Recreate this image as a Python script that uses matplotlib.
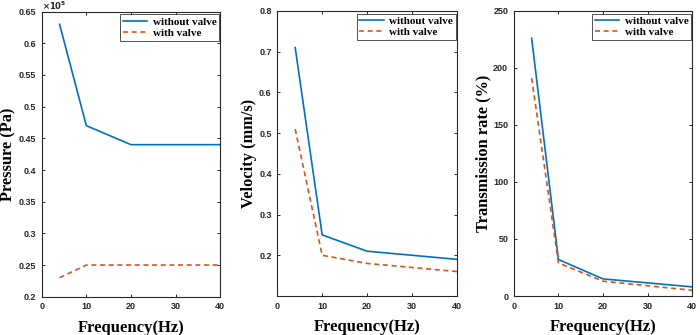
import matplotlib.pyplot as plt
from matplotlib.ticker import FuncFormatter

freq = [4, 10, 20, 40]

pressure_without = [63000, 47000, 44000, 44000]
pressure_with = [23000, 25000, 25000, 25000]

velocity_without = [0.71, 0.25, 0.21, 0.19]
velocity_with = [0.51, 0.20, 0.18, 0.16]

trans_without = [226, 32, 15, 8]
trans_with = [191, 29, 13, 5]

BLUE = "#0072BD"
ORANGE = "#D95319"
AX_COLOR = "#262626"

plt.rcParams.update({
    "font.family": "sans-serif",
    "font.sans-serif": ["Liberation Sans", "DejaVu Sans"],
    "font.weight": "bold",
    "axes.linewidth": 0.8,
    "axes.edgecolor": AX_COLOR,
})

fig = plt.figure(figsize=(7.0, 3.35), dpi=100)
positions = [
    [0.0596, 0.1143, 0.255, 0.851],
    [0.396, 0.1164, 0.257, 0.851],
    [0.734, 0.1164, 0.255, 0.851],
]
axes = [fig.add_axes(p) for p in positions]

panels = [
    (pressure_without, pressure_with, "Pressure (Pa)", (20000, 65000),
     [20000 + 5000 * i for i in range(10)]),
    (velocity_without, velocity_with, "Velocity (mm/s)", (0.1, 0.8),
     [0.2, 0.3, 0.4, 0.5, 0.6, 0.7, 0.8]),
    (trans_without, trans_with, "Transmission rate (%)", (0, 250),
     [0, 50, 100, 150, 200, 250]),
]

serif = {"family": "Liberation Serif", "weight": "bold"}

for ax, (y_wo, y_w, ylabel, ylim, yticks) in zip(axes, panels):
    ax.plot(freq, y_wo, color=BLUE, lw=1.2, label="without valve")
    ax.plot(freq, y_w, color=ORANGE, lw=1.2, ls=(0, (3, 2.2)), label="with valve")
    ax.set_xlim(0, 40)
    ax.set_ylim(*ylim)
    ax.set_xticks([0, 10, 20, 30, 40])
    ax.set_yticks(yticks)
    ax.tick_params(direction="in", length=2.5, width=0.7, top=True, right=True,
                   labelsize=6.5, colors=AX_COLOR, pad=4)
    for lab in ax.get_xticklabels() + ax.get_yticklabels():
        lab.set_fontweight("bold")
    ax.set_xlabel("Frequency(Hz)", fontdict=serif, fontsize=12, labelpad=6)
    ax.set_ylabel(ylabel, fontdict=serif, fontsize=11.8, labelpad=1.5)
    leg = ax.legend(loc="upper right", bbox_to_anchor=(0.994, 0.99),
                    prop={"family": "Liberation Serif", "weight": "bold", "size": 8},
                    frameon=True, fancybox=False, edgecolor=AX_COLOR,
                    handlelength=2.2, handletextpad=0.5, borderpad=0.25,
                    labelspacing=0.1, borderaxespad=0.0)
    leg.get_frame().set_linewidth(0.7)

# pressure axis shown in units of 1e5 Pa
axes[0].yaxis.set_major_formatter(FuncFormatter(lambda v, _: f"{v / 1e5:g}"))
axes[0].text(0.0, 1.004, r"$\times 10^5$", transform=axes[0].transAxes,
             fontsize=6, color=AX_COLOR, ha="left", va="baseline")

fig.savefig("out.png", dpi=100)
